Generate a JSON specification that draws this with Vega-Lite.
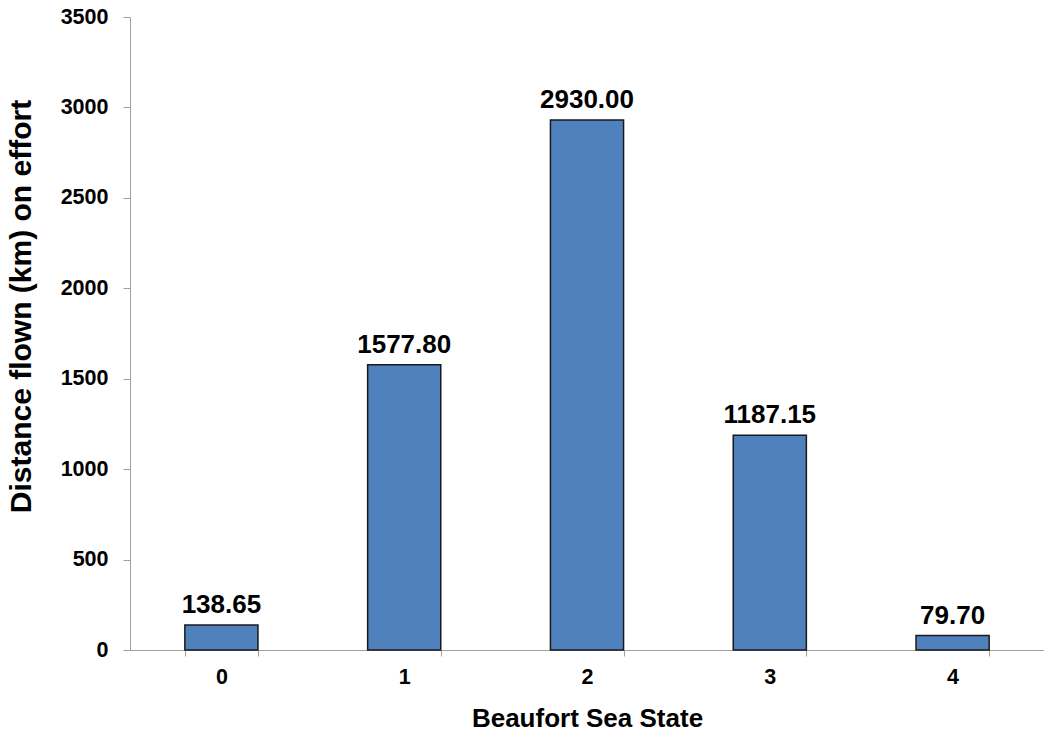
{
  "$schema": "https://vega.github.io/schema/vega-lite/v6.json",
  "autosize": "none",
  "width": 914,
  "height": 633,
  "padding": {"left": 130, "top": 17, "right": 0, "bottom": 86},
  "background": "white",
  "config": {"view": {"stroke": null}, "font": "Liberation Sans"},
  "data": {"values": [
    {"state": "0", "km": 138.65},
    {"state": "1", "km": 1577.80},
    {"state": "2", "km": 2930.00},
    {"state": "3", "km": 1187.15},
    {"state": "4", "km": 79.70}
  ]},
  "encoding": {
    "x": {"field": "state", "type": "ordinal", "sort": null,
      "scale": {"paddingInner": 0.6, "paddingOuter": 0.3},
      "axis": {"title": "Beaufort Sea State", "labelAngle": 0, "labelFont": "Liberation Sans", "labelFontWeight": "bold", "labelFontSize": 21.5, "labelColor": "#000", "labelPadding": 10,
        "titleFont": "Liberation Sans", "titleFontWeight": "bold", "titleFontSize": 26, "titleColor": "#000", "titlePadding": 18,
        "domainColor": "#a0a0a0", "tickColor": "#a0a0a0", "tickSize": 6, "tickBand": "extent", "grid": false}},
    "y": {"field": "km", "type": "quantitative",
      "scale": {"domain": [0, 3500], "nice": false},
      "axis": {"title": "Distance flown (km) on effort", "values": [0,500,1000,1500,2000,2500,3000,3500], "format": "d", "grid": false,
        "labelFont": "Liberation Sans", "labelFontWeight": "bold", "labelFontSize": 21.5, "labelColor": "#000", "labelPadding": 15,
        "titleFont": "Liberation Sans", "titleFontWeight": "bold", "titleFontSize": 30, "titleColor": "#000", "titlePadding": 24, "titleY": 289,
        "domainColor": "#a0a0a0", "tickColor": "#a0a0a0", "tickSize": 7}}
  },
  "layer": [
    {"mark": {"type": "bar", "color": "#4F81BD", "stroke": "#1a1a1a", "strokeWidth": 1.5}},
    {"mark": {"type": "text", "baseline": "alphabetic", "dy": -12, "font": "Liberation Sans", "fontWeight": "bold", "fontSize": 26, "color": "#000"},
     "encoding": {"text": {"field": "km", "type": "quantitative", "format": ".2f"}}}
  ]
}
